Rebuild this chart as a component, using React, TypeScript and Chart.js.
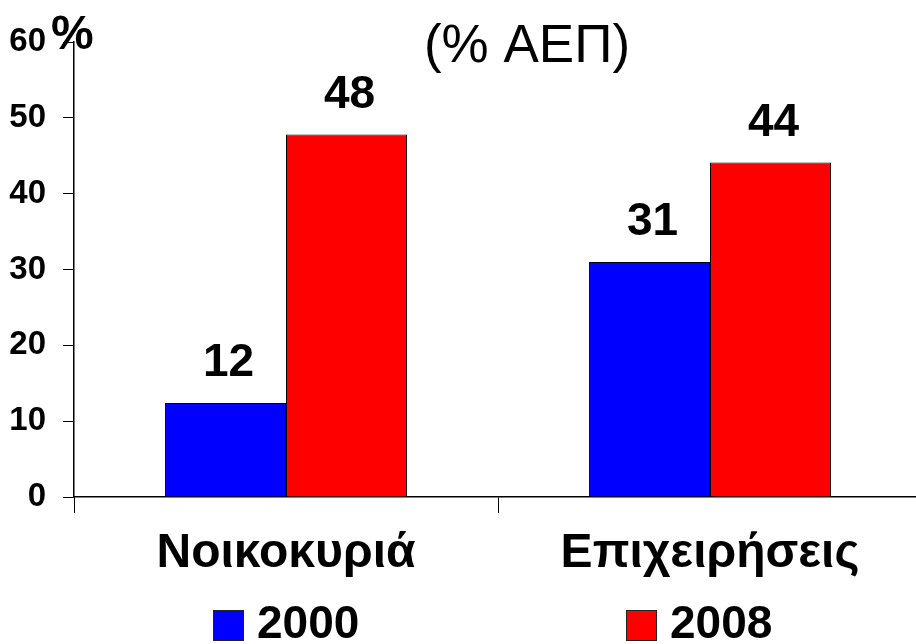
import React, { useEffect, useRef } from "react";
import { Chart, registerables } from "chart.js";

Chart.register(...registerables);

const categories = ["Νοικοκυριά", "Επιχειρήσεις"];
const seriesNames = ["2000", "2008"];
const values2000 = [12.4, 31];
const values2008 = [47.8, 44.1];
const valueLabels2000 = ["12", "31"];
const valueLabels2008 = ["48", "44"];
const yMin = 0;
const yMax = 60;
const yStep = 10;
const titleText = "(% ΑΕΠ)";
const unitText = "%";
const seriesColors = ["#0000FF", "#FF0000"];

const FONT = 'Arial, "Liberation Sans", Helvetica, sans-serif';

const overlayPlugin = {
  id: "overlay",
  afterDatasetsDraw(chart: any) {
    const ctx = chart.ctx;
    ctx.save();
    ctx.fillStyle = "#000";
    ctx.textBaseline = "alphabetic";

    // value labels
    ctx.textAlign = "center";
    ctx.font = `bold 46px ${FONT}`;
    const labelSets = [valueLabels2000, valueLabels2008];
    chart.data.datasets.forEach((_ds: any, di: number) => {
      const meta = chart.getDatasetMeta(di);
      meta.data.forEach((bar: any, i: number) => {
        ctx.fillText(labelSets[di][i], bar.x + 3, bar.y - 27);
      });
    });

    // title
    ctx.font = `53px ${FONT}`;
    ctx.fillText(titleText, 527, 62);

    // unit
    ctx.textAlign = "left";
    ctx.font = `bold 48px ${FONT}`;
    ctx.fillText(unitText, 51, 49);

    // legend
    const legendX = [213, 626];
    const boxY = 610;
    const box = 31;
    chart.data.datasets.forEach((ds: any, di: number) => {
      const x = legendX[di];
      ctx.fillStyle = ds.backgroundColor;
      ctx.fillRect(x, boxY, box, box);
      ctx.strokeStyle = "#222";
      ctx.lineWidth = 1;
      ctx.strokeRect(x + 0.5, boxY + 0.5, box - 1, box - 1);
      ctx.fillStyle = "#000";
      ctx.font = `bold 46px ${FONT}`;
      ctx.fillText(ds.label, x + 44, 638);
    });
    ctx.restore();
  },
};

export default function App() {
  const canvasRef = useRef<HTMLCanvasElement | null>(null);

  useEffect(() => {
    if (!canvasRef.current) return;
    const chart = new Chart(canvasRef.current, {
      type: "bar",
      data: {
        labels: categories,
        datasets: [
          {
            label: seriesNames[0],
            data: values2000,
            backgroundColor: seriesColors[0],
            borderColor: "#000",
            borderWidth: 1,
            categoryPercentage: 0.571,
            barPercentage: 1,
          },
          {
            label: seriesNames[1],
            data: values2008,
            backgroundColor: seriesColors[1],
            borderColor: "#000",
            borderWidth: 1,
            categoryPercentage: 0.571,
            barPercentage: 1,
          },
        ],
      },
      options: {
        responsive: false,
        maintainAspectRatio: false,
        animation: false,
        devicePixelRatio: 1,
        layout: { padding: { top: 42, right: 8, left: 0, bottom: 0 } },
        plugins: {
          legend: { display: false },
          tooltip: { enabled: false },
          title: { display: false },
        },
        scales: {
          x: {
            ticks: {
              color: "#000",
              font: { family: FONT, size: 48, weight: "bold" },
              padding: 12,
              maxRotation: 0,
            },
            grid: {
              drawOnChartArea: false,
              drawTicks: true,
              tickLength: 16,
              color: "#000",
              lineWidth: 1,
              offset: true,
            },
            border: { display: true, color: "#000", width: 1.5 },
            afterFit(scale: any) {
              scale.height = 147;
            },
          },
          y: {
            min: yMin,
            max: yMax,
            ticks: {
              stepSize: yStep,
              color: "#000",
              font: { family: FONT, size: 33, weight: "bold" },
              padding: 17,
            },
            grid: {
              drawOnChartArea: false,
              drawTicks: true,
              tickLength: 11,
              color: "#000",
              lineWidth: 1,
            },
            border: { display: true, color: "#000", width: 1.5 },
            afterFit(scale: any) {
              scale.width = 74;
            },
          },
        },
      },
      plugins: [overlayPlugin],
    });
    return () => chart.destroy();
  }, []);

  return (
    <div
      style={{
        position: "fixed",
        left: 0,
        top: 0,
        width: 916,
        height: 644,
        overflow: "hidden",
        background: "#fff",
      }}
    >
      <canvas ref={canvasRef} width={930} height={644} style={{ display: "block" }} />
    </div>
  );
}
